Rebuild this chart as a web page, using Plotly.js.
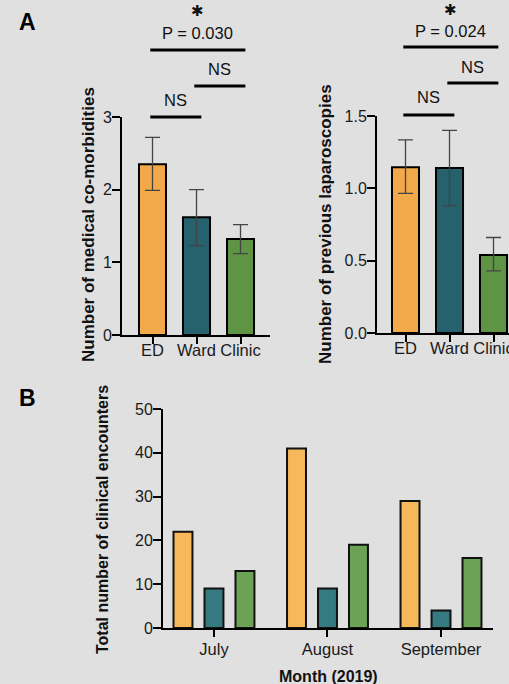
<!DOCTYPE html>
<html>
<head>
<meta charset="utf-8">
<script src="https://cdn.plot.ly/plotly-3.0.1.min.js"></script>
<style>
html,body{margin:0;padding:0;background:#e0e0e0;}
#chart{width:509px;height:684px;}
</style>
</head>
<body>
<div id="chart"></div>
<script>
// ---- Data ----
var groups = ['ED', 'Ward', 'Clinic'];
var comorbidities = [2.35, 1.62, 1.32];
var comorbiditiesErrPlus = [0.37, 0.38, 0.20];
var comorbiditiesErrMinus = [0.36, 0.39, 0.20];
var laparoscopies = [1.145, 1.14, 0.54];
var laparoscopiesErrPlus = [0.19, 0.26, 0.12];
var laparoscopiesErrMinus = [0.18, 0.26, 0.11];
var months = ['July', 'August', 'September'];
var encountersED = [22, 41, 29];
var encountersWard = [9, 9, 4];
var encountersClinic = [13, 19, 16];
var comparisonsA1 = [[0, 1, 'NS'], [1, 2, 'NS'], [0, 2, 'P = 0.030']];
var comparisonsA2 = [[0, 1, 'NS'], [1, 2, 'NS'], [0, 2, 'P = 0.024']];

// ---- Styles ----
var W = 509, H = 684;
var colsA = ['#F2A94A', '#25626D', '#5E9444'];
var colsB = ['#F7B85C', '#347A80', '#6CA255'];
var FONT = 'Liberation Sans, Arial, sans-serif';
function px(x){ return x / W; }
function py(y){ return 1 - y / H; }

function errBar(plus, minus){
  return {type:'data', symmetric:false, array:plus, arrayminus:minus,
          color:'#444', thickness:1.3, width:7.5};
}

var traces = [
  {type:'bar', x:groups, y:comorbidities, xaxis:'x', yaxis:'y',
   width:0.614, marker:{color:colsA, line:{color:'#000', width:2}},
   error_y:errBar(comorbiditiesErrPlus, comorbiditiesErrMinus), hoverinfo:'none'},
  {type:'bar', x:groups, y:laparoscopies, xaxis:'x2', yaxis:'y2',
   width:0.614, marker:{color:colsA, line:{color:'#000', width:2}},
   error_y:errBar(laparoscopiesErrPlus, laparoscopiesErrMinus), hoverinfo:'none'}
];
var bSeries = [encountersED, encountersWard, encountersClinic];
var bWidth = 0.167, bStep = 0.273;
bSeries.forEach(function(vals, i){
  traces.push({type:'bar', x:months, y:vals, xaxis:'x3', yaxis:'y3',
    width:bWidth, offset:(i - 1) * bStep - bWidth / 2,
    marker:{color:colsB[i], line:{color:'#111', width:2}}, hoverinfo:'none'});
});

function yax(domain, range, dtick, fmt){
  return {domain:domain, range:range, dtick:dtick, tickformat:fmt,
    showline:true, linecolor:'#000', linewidth:2, ticks:'outside', ticklen:8,
    tickwidth:2, tickcolor:'#000', showgrid:false, zeroline:false, ticklabelstandoff:-3,
    tickfont:{family:FONT, size:16, color:'#1a1a1a'}, fixedrange:true};
}
function xax(domain, range, anchor, standoff){
  return {domain:domain, range:range, anchor:anchor, type:'category',
    showline:true, linecolor:'#000', linewidth:2, ticks:'outside', ticklen:7,
    tickwidth:2, tickcolor:'#000', showgrid:false, zeroline:false, ticklabelstandoff:standoff,
    tickfont:{family:FONT, size:16.5, color:'#1a1a1a'}, fixedrange:true};
}

var shapes = [], annotations = [];
function addBrackets(comps, xref, lineYs, textYs, starY){
  comps.forEach(function(c, k){
    shapes.push({type:'line', xref:xref, yref:'paper',
      x0:c[0] - 0.05, x1:c[1] + 0.11, y0:py(lineYs[k]), y1:py(lineYs[k]),
      line:{color:'#000', width:3}});
    annotations.push({xref:xref, yref:'paper', x:(c[0] + c[1]) / 2 + 0.03,
      y:py(textYs[k]), text:c[2], showarrow:false, yanchor:'middle',
      font:{family:FONT, size:16.5, color:'#111'}});
  });
  annotations.push({xref:xref, yref:'paper', x:1.03, y:py(starY), text:'✱',
    showarrow:false, yanchor:'middle', font:{family:'DejaVu Sans', size:15, color:'#111'}});
}
addBrackets(comparisonsA1, 'x', [117, 86, 50], [100, 69, 33], 11);
addBrackets(comparisonsA2, 'x2', [115, 83, 47], [97, 67, 31], 10);

function vtitle(text, x, y, size){
  annotations.push({xref:'paper', yref:'paper', x:px(x), y:py(y), text:'<b>' + text + '</b>',
    textangle:-90, showarrow:false, xanchor:'center', yanchor:'middle',
    font:{family:FONT, size:size, color:'#111'}});
}
vtitle('Number of medical co-morbidities', 88, 225, 17);
vtitle('Number of previous laparoscopies', 325, 224, 17);
vtitle('Total number of clinical encounters', 102, 520, 16);
annotations.push({xref:'paper', yref:'paper', x:px(328), y:py(676), text:'<b>Month (2019)</b>',
  showarrow:false, xanchor:'center', yanchor:'middle', font:{family:FONT, size:16, color:'#111'}});
annotations.push({xref:'paper', yref:'paper', x:px(27), y:py(22), text:'<b>A</b>',
  showarrow:false, xanchor:'center', yanchor:'middle', font:{family:FONT, size:23, color:'#000'}});
annotations.push({xref:'paper', yref:'paper', x:px(27), y:py(398), text:'<b>B</b>',
  showarrow:false, xanchor:'center', yanchor:'middle', font:{family:FONT, size:23, color:'#000'}});

var layout = {
  width:W, height:H, margin:{l:0, r:0, t:0, b:0},
  paper_bgcolor:'#e0e0e0', plot_bgcolor:'rgba(0,0,0,0)',
  showlegend:false, barmode:'overlay',
  font:{family:FONT},
  xaxis: xax([px(122), px(270)], [-0.693, 2.67], 'y', -8),
  yaxis: yax([py(335), py(117)], [0, 3], 1, 'd'),
  xaxis2: xax([px(377), 1], [-0.648, 2.352], 'y2', -8),
  yaxis2: yax([py(333), py(116)], [0, 1.5], 0.5, '.1f'),
  xaxis3: xax([px(163), px(493)], [-0.449, 2.458], 'y3', -2),
  yaxis3: yax([py(628), py(409)], [0, 50], 10, 'd'),
  shapes:shapes, annotations:annotations
};
layout.yaxis.anchor = 'x';
layout.yaxis2.anchor = 'x2';
layout.yaxis3.anchor = 'x3';

Plotly.newPlot('chart', traces, layout, {staticPlot:true, displayModeBar:false});
</script>
</body>
</html>
